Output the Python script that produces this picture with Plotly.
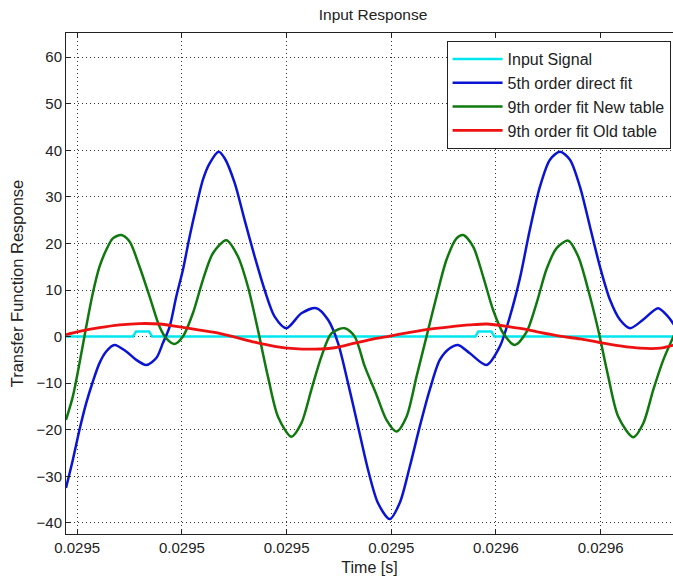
import plotly.graph_objects as go

# ---- data (time in seconds, response values) ----
t_input = [0.02947786, 0.02949067, 0.02949124, 0.02949373, 0.02949430,
           0.02955606, 0.02955663, 0.02955912, 0.02955969, 0.02959402]
y_input = [0, 0, 1.1, 1.1, 0, 0, 1.1, 1.1, 0, 0]

t_fifth = [0.02947786, 0.02947916, 0.02948044, 0.02948172, 0.02948298, 0.02948426,
           0.02948554, 0.02948713, 0.02948937, 0.02949128, 0.02949319, 0.02949511,
           0.02949637, 0.02949765, 0.02949893, 0.02950019, 0.02950148, 0.02950275,
           0.02950402, 0.02950530, 0.02950702, 0.02950817, 0.02951008, 0.02951199,
           0.02951390, 0.02951581, 0.02951772, 0.02951996, 0.02952283, 0.02952570,
           0.02952792, 0.02952983, 0.02953174, 0.02953365, 0.02953556, 0.02953748,
           0.02953971, 0.02954163, 0.02954354, 0.02954545, 0.02954736, 0.02954927,
           0.02955118, 0.02955277, 0.02955501, 0.02955820, 0.02956075, 0.02956266,
           0.02956457, 0.02956648, 0.02956840, 0.02957031, 0.02957222, 0.02957413,
           0.02957604, 0.02957796, 0.02957987, 0.02958178, 0.02958369, 0.02958560,
           0.02958809, 0.02959096, 0.02959287, 0.02959402]
y_fifth = [-32.5, -26.5, -20, -14.3, -9.7, -5.7, -3.2, -1.8, -3.2, -5,
           -6.1, -4.6, -1.4, 2.1, 8.6, 14.3, 21.5, 27.9, 33.7, 37.2,
           39.7, 38.3, 33, 25, 17.2, 10, 4.3, 1.8, 5, 6.1,
           3.6, -1.4, -10, -19.3, -28.6, -35.8, -39.2, -35.7, -27.9, -19.3,
           -11.4, -5, -2.5, -1.8, -3.6, -6.1, -2.1, 4.3, 12.5, 23,
           32.2, 38, 39.7, 38, 32.2, 23.6, 15, 7.9, 3.6, 1.8,
           3.6, 6.1, 4.3, 2.5]

t_new = [0.02947786, 0.02947916, 0.02948044, 0.02948172, 0.02948298, 0.02948426,
         0.02948554, 0.02948681, 0.02948841, 0.02949000, 0.02949191, 0.02949383,
         0.02949574, 0.02949702, 0.02949861, 0.02950019, 0.02950210, 0.02950402,
         0.02950593, 0.02950849, 0.02951071, 0.02951262, 0.02951453, 0.02951644,
         0.02951836, 0.02952092, 0.02952283, 0.02952474, 0.02952665, 0.02952857,
         0.02953111, 0.02953302, 0.02953493, 0.02953717, 0.02953908, 0.02954099,
         0.02954291, 0.02954482, 0.02954673, 0.02954864, 0.02955055, 0.02955247,
         0.02955373, 0.02955564, 0.02955755, 0.02955946, 0.02956138, 0.02956362,
         0.02956585, 0.02956776, 0.02956967, 0.02957159, 0.02957380, 0.02957572,
         0.02957763, 0.02957954, 0.02958145, 0.02958337, 0.02958623, 0.02958815,
         0.02959006, 0.02959197, 0.02959402]
y_new = [-17.9, -12.9, -5.7, 2.1, 9.3, 15, 18.6, 21.1, 21.8, 20.4,
         15, 8.6, 2.1, -0.4, -1.6, 0, 5, 12.2, 17.9, 20.7,
         17.2, 10.7, 1.4, -8.6, -17.2, -21.5, -18.6, -11.4, -4.3, 0.7,
         1.8, 0, -6.4, -12.5, -17.9, -20.4, -17.2, -8.6, 0, 8.6,
         16.5, 21.1, 21.8, 19.3, 12.9, 5.7, 0.7, -1.8, 1.0, 7.2,
         14.5, 19, 20.6, 17.2, 10, 1.4, -8.6, -17.2, -21.6, -18.6,
         -11.4, -5, 0.3]

t_old = [0.02947786, 0.02948044, 0.02948426, 0.02948809, 0.02949191, 0.02949574,
         0.02949956, 0.02950339, 0.02950625, 0.02951008, 0.02951390, 0.02951772,
         0.02952155, 0.02952537, 0.02952920, 0.02953302, 0.02953627, 0.02953971,
         0.02954354, 0.02954736, 0.02955118, 0.02955501, 0.02955826, 0.02956266,
         0.02956553, 0.02956840, 0.02957222, 0.02957604, 0.02957987, 0.02958369,
         0.02958751, 0.02959134, 0.02959402]
y_old = [0.4, 1.1, 1.9, 2.5, 2.8, 2.7, 2.1, 1.4, 0.9, -0.1,
         -1.2, -2.1, -2.6, -2.7, -2.4, -1.4, -0.6, 0.1, 0.9, 1.6,
         2.1, 2.5, 2.7, 2.1, 1.6, 0.9, 0.1, -0.5, -1.3, -2.0,
         -2.5, -2.5, -1.8]

x_tickvals = [0.02948, 0.02950, 0.02952, 0.02954, 0.02956, 0.02958]
x_ticktext = ["0.0295", "0.0295", "0.0295", "0.0295", "0.0296", "0.0296"]
y_tickvals = [-40, -30, -20, -10, 0, 10, 20, 30, 40, 50, 60]

FONT = "Liberation Sans, Arial, Helvetica, sans-serif"

fig = go.Figure()
fig.add_trace(go.Scatter(x=t_input, y=y_input, mode="lines", name="Input Signal",
                         line=dict(color="#00e6ee", width=2.5)))
fig.add_trace(go.Scatter(x=t_fifth, y=y_fifth, mode="lines", name="5th order direct fit",
                         line=dict(color="#0a14d2", width=2.5, shape="spline", smoothing=0.8)))
fig.add_trace(go.Scatter(x=t_new, y=y_new, mode="lines", name="9th order fit New table",
                         line=dict(color="#11780f", width=2.5, shape="spline", smoothing=0.8)))
fig.add_trace(go.Scatter(x=t_old, y=y_old, mode="lines", name="9th order fit Old table",
                         line=dict(color="#ee1111", width=2.8, shape="spline", smoothing=0.8)))

fig.update_layout(
    width=673, height=580,
    margin=dict(l=66, r=0, t=33, b=46),
    paper_bgcolor="white", plot_bgcolor="white",
    font=dict(family=FONT, size=15, color="#222"),
    title=dict(text="Input Response", x=373/673, xanchor="center",
               y=1 - 15/580, yanchor="middle", font=dict(size=15.5, color="#222")),
    showlegend=True,
    legend=dict(x=0.627, y=0.984, xanchor="left", yanchor="top",
                bgcolor="white", bordercolor="#222", borderwidth=1,
                font=dict(size=16, color="#222"), itemwidth=50,
                tracegroupgap=0),
)
fig.update_xaxes(
    range=[0.02947786, 0.02959382],
    tickvals=x_tickvals, ticktext=x_ticktext,
    ticks="inside", ticklen=5, tickcolor="#222",
    showline=True, linecolor="#222", linewidth=1, mirror="ticks",
    showgrid=True, gridcolor="#333", gridwidth=1, griddash="1px,3px",
    zeroline=False,
    title=dict(text="Time [s]", font=dict(size=16), standoff=6),
    tickfont=dict(size=15),
)
fig.update_yaxes(
    range=[-42.4, 65.2],
    tickvals=y_tickvals,
    ticks="inside", ticklen=5, tickcolor="#222",
    showline=True, linecolor="#222", linewidth=1, mirror=False,
    showgrid=True, gridcolor="#333", gridwidth=1, griddash="1px,3px",
    zeroline=False,
    title=dict(text="Transfer Function Response", font=dict(size=16.5), standoff=8),
    tickfont=dict(size=15),
)

fig.write_html("out.html",
               config={"displayModeBar": False},
               post_script="document.body.style.margin='0';document.body.style.overflow='hidden';")
